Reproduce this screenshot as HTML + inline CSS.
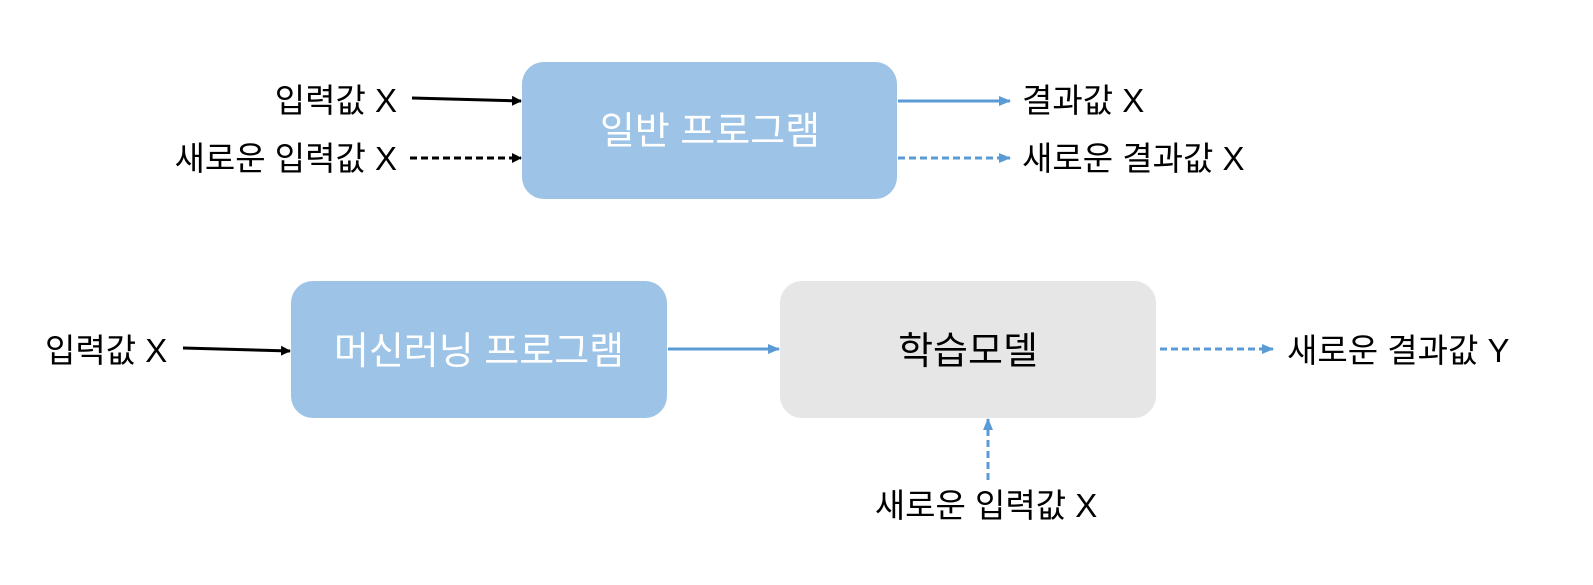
<!DOCTYPE html>
<html><head><meta charset="utf-8"><style>
html,body{margin:0;padding:0;background:#fff;}
text{font-family:"Liberation Sans","Noto Sans CJK KR",sans-serif;}
</style></head><body>
<svg width="1593" height="580" viewBox="0 0 1593 580" xmlns="http://www.w3.org/2000/svg">
<defs>
<marker id="ab" markerWidth="10" markerHeight="10" refX="9" refY="5" orient="auto" markerUnits="userSpaceOnUse"><path d="M0,0 L10,5 L0,10 z" fill="#000"/></marker>
<marker id="au" markerWidth="12" markerHeight="10" refX="11" refY="5" orient="auto" markerUnits="userSpaceOnUse"><path d="M0,0 L12,5 L0,10 z" fill="#5b9bd5"/></marker>
</defs>
<rect x="522" y="62" width="375" height="137" rx="22" fill="#9dc3e6"/>
<rect x="291" y="281" width="376" height="137" rx="22" fill="#9dc3e6"/>
<rect x="780" y="281" width="376" height="137" rx="22" fill="#e7e6e6"/>
<g font-size="33" fill="#000">
<text x="397" y="112" text-anchor="end">입력값 X</text>
<text x="397" y="170" text-anchor="end">새로운 입력값 X</text>
<text x="1022" y="112">결과값 X</text>
<text x="1022" y="170">새로운 결과값 X</text>
<text x="45" y="362">입력값 X</text>
<text x="1287" y="362">새로운 결과값 Y</text>
<text x="986" y="517" text-anchor="middle">새로운 입력값 X</text>
<text x="968" y="364" text-anchor="middle" font-size="38">학습모델</text>
</g>
<text x="710" y="144" text-anchor="middle" font-size="38" fill="#fff">일반 프로그램</text>
<text x="479" y="364" text-anchor="middle" font-size="38" fill="#fff">머신러닝 프로그램</text>
<g stroke-width="3">
<line x1="412" y1="98" x2="521" y2="101" stroke="#000" marker-end="url(#ab)"/>
<line x1="410" y1="158" x2="521" y2="158" stroke="#000" stroke-dasharray="7,4" marker-end="url(#ab)"/>
<line x1="183" y1="348" x2="290" y2="351" stroke="#000" marker-end="url(#ab)"/>
<line x1="898" y1="101" x2="1010" y2="101" stroke="#5b9bd5" marker-end="url(#au)"/>
<line x1="898" y1="158" x2="1010" y2="158" stroke="#5b9bd5" stroke-dasharray="7,4" marker-end="url(#au)"/>
<line x1="668" y1="349" x2="779" y2="349" stroke="#5b9bd5" marker-end="url(#au)"/>
<line x1="1160" y1="349" x2="1273" y2="349" stroke="#5b9bd5" stroke-dasharray="7,4" marker-end="url(#au)"/>
<line x1="988" y1="480" x2="988" y2="419" stroke="#5b9bd5" stroke-dasharray="7,4" marker-end="url(#au)"/>
</g>
</svg>
</body></html>
